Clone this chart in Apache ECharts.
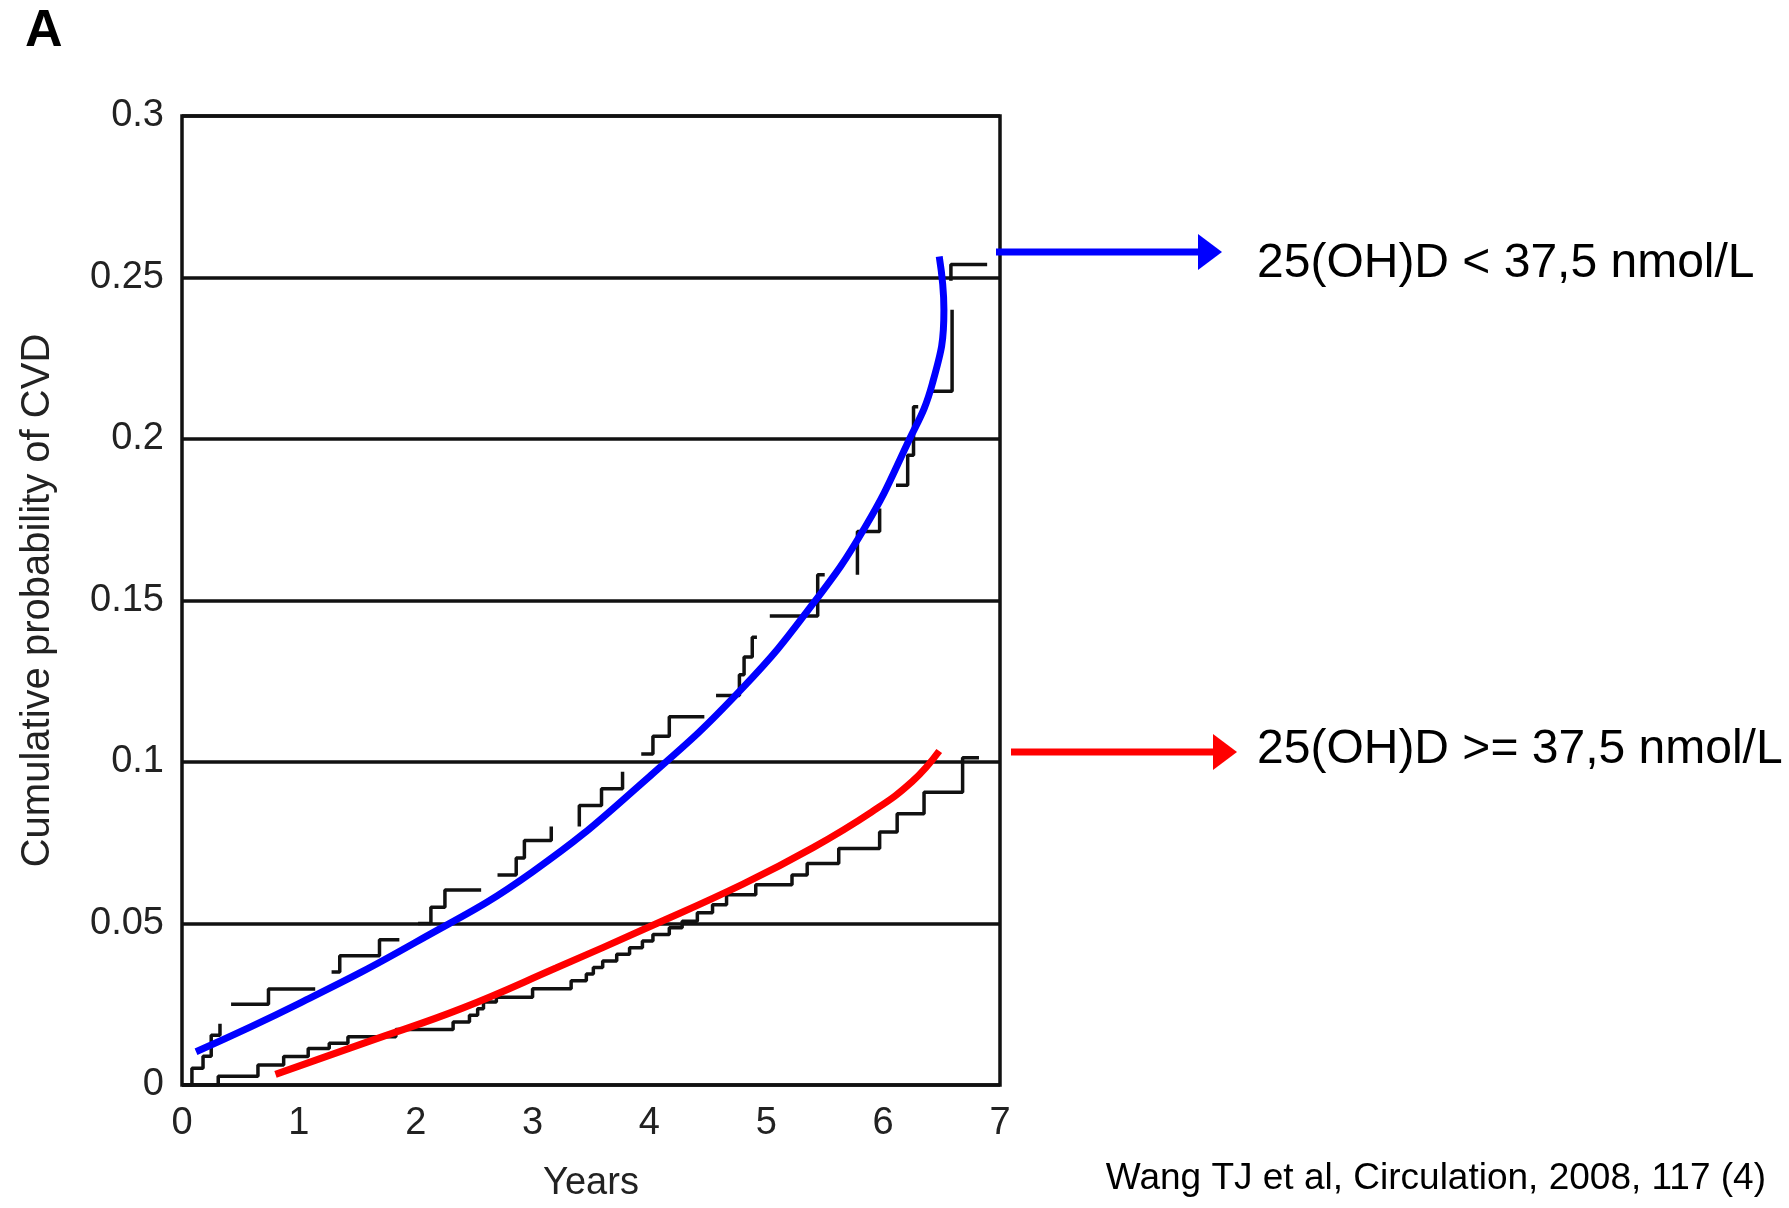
<!DOCTYPE html>
<html><head><meta charset="utf-8">
<script src="https://cdn.jsdelivr.net/npm/echarts@6/dist/echarts.min.js"></script>
<style>html,body{margin:0;padding:0;background:#fff}#c{width:1789px;height:1208px}</style>
</head><body><div id="c"></div>
<script>
// Kaplan-Meier step curve, 25(OH)D < 37.5 nmol/L (drawn as separate visible pieces)
const lowDSegments = [
  [[0,0],[0.085,0.0052],[0.18,0.0089],[0.25,0.0154],[0.325,0.019]],
  [[0.42,0.025],[0.74,0.0297],[1.14,0.0297]],
  [[1.28,0.035],[1.35,0.040],[1.69,0.045],[1.86,0.045]],
  [[2.02,0.050],[2.13,0.055],[2.25,0.0604],[2.56,0.0604]],
  [[2.70,0.065],[2.86,0.0703],[2.93,0.0757],[3.16,0.080]],
  [[3.40,0.080],[3.40,0.0865],[3.59,0.0917],[3.77,0.097]],
  [[3.93,0.1025],[4.03,0.108],[4.17,0.114],[4.47,0.114]],
  [[4.57,0.1206],[4.77,0.127],[4.81,0.1325],[4.88,0.1386],[4.92,0.1386]],
  [[5.03,0.1452],[5.44,0.158],[5.50,0.158]],
  [[5.78,0.158],[5.78,0.1714],[5.97,0.1785]],
  [[6.11,0.1857],[6.21,0.195],[6.26,0.210],[6.30,0.210]],
  [[6.42,0.2148],[6.59,0.240]],
  [[6.58,0.249],[6.58,0.254],[6.89,0.254]]
];
// Kaplan-Meier step curve, 25(OH)D >= 37.5 nmol/L
const highDSteps = [
  [0,0],[0.31,0.0027],[0.65,0.0062],[0.87,0.0088],[1.08,0.0113],[1.26,0.0129],
  [1.42,0.0149],[1.83,0.0172],[2.32,0.0195],[2.46,0.0216],[2.53,0.0236],[2.58,0.0257],
  [2.69,0.0272],[3.00,0.0298],[3.33,0.0323],[3.46,0.0344],[3.52,0.0364],[3.60,0.0384],
  [3.72,0.0405],[3.83,0.0425],[3.94,0.0446],[4.03,0.0466],[4.17,0.0487],[4.28,0.0507],
  [4.41,0.0533],[4.54,0.0558],[4.66,0.0589],[4.91,0.062],[5.22,0.065],[5.35,0.0686],
  [5.62,0.0732],[5.97,0.0783],[6.12,0.084],[6.35,0.0906],[6.68,0.1013],[6.82,0.1013]
];
// Hand-drawn trend curves (blue: low vitamin D, red: high vitamin D)
const lowDTrend = [
  [0.12,0.0103],[1.0,0.0252],[2.0,0.0442],[3.0,0.066],[4.0,0.0955],[4.8,0.123],
  [5.4,0.149],[5.85,0.173],[6.2,0.198],[6.42,0.217],[6.52,0.240],[6.48,0.2565]
];
const highDTrend = [
  [0.80,0.0033],[1.6,0.0135],[2.4,0.0238],[3.2,0.0362],[4.0,0.0490],[4.8,0.0622],
  [5.4,0.0735],[5.9,0.0845],[6.25,0.0940],[6.48,0.1034]
];
const yTickLabels = ['0','0.05','0.1','0.15','0.2','0.25','0.3'];
const xTickLabels = ['0','1','2','3','4','5','6','7'];
const labelLow = '25(OH)D < 37,5 nmol/L';
const labelHigh = '25(OH)D >= 37,5 nmol/L';
const panelLetter = 'A';
const citation = 'Wang TJ et al, Circulation, 2008, 117 (4)';
const xName = 'Years';
const yName = 'Cumulative probability of CVD';

const FONT = "'Liberation Sans', Arial, Helvetica, sans-serif";
const chart = echarts.init(document.getElementById('c'), null, {renderer:'canvas'});

const series = [];
lowDSegments.forEach(seg => series.push({
  type:'line', data:seg, step:'end', showSymbol:false, symbol:'none', silent:true,
  lineStyle:{color:'#111', width:3.5}, z:2
}));
series.push({type:'line', data:highDSteps, step:'end', symbol:'none', silent:true,
  lineStyle:{color:'#111', width:3.5}, z:2});
series.push({type:'line', data:lowDTrend, smooth:0.45, symbol:'none', silent:true,
  lineStyle:{color:'#0000ff', width:7, cap:'butt'}, z:5});
series.push({type:'line', data:highDTrend, smooth:0.45, symbol:'none', silent:true,
  lineStyle:{color:'#ff0000', width:7, cap:'butt'}, z:5});

function arrow(x1, x2, y, color){
  return {type:'group', children:[
    {type:'line', shape:{x1:x1, y1:y, x2:x2-22, y2:y}, style:{stroke:color, lineWidth:7}},
    {type:'polygon', shape:{points:[[x2-24,y-18],[x2,y],[x2-24,y+18]]}, style:{fill:color}}
  ]};
}

chart.setOption({
  animation:false,
  backgroundColor:'#fff',
  grid:{left:182, right:789, top:116, bottom:116, show:true, borderColor:'#111', borderWidth:3.5, backgroundColor:'transparent'},
  xAxis:{type:'value', min:0, max:7, interval:1,
    axisLine:{show:false}, axisTick:{show:false}, splitLine:{show:false},
    axisLabel:{fontFamily:FONT, fontSize:38, color:'#222', margin:20,
      formatter:(v)=>xTickLabels[Math.round(v)]},
    name:xName, nameLocation:'middle', nameGap:80,
    nameTextStyle:{fontFamily:FONT, fontSize:38, color:'#222'}},
  yAxis:{type:'value', min:0, max:0.3, interval:0.05,
    axisLine:{show:false}, axisTick:{show:false},
    splitLine:{show:true, lineStyle:{color:'#111', width:3.5}},
    axisLabel:{fontFamily:FONT, fontSize:38, color:'#222', margin:18,
      formatter:(v)=>yTickLabels[Math.round(v/0.05)]},
    name:yName, nameLocation:'middle', nameGap:124, nameRotate:90,
    nameTextStyle:{fontFamily:FONT, fontSize:40, color:'#222'}},
  series:series,
  graphic:[
    {type:'text', left:25, top:6, style:{text:panelLetter, font:"bold 52px "+FONT, fill:'#000'}},
    arrow(996, 1222, 252, '#0000ff'),
    arrow(1011, 1237, 752, '#ff0000'),
    {type:'text', x:1257, y:264, style:{text:labelLow, font:"48px "+FONT, fill:'#000', textVerticalAlign:'middle'}},
    {type:'text', x:1257, y:750, style:{text:labelHigh, font:"48px "+FONT, fill:'#000', textVerticalAlign:'middle'}},
    {type:'text', x:1766, y:1179, style:{text:citation, font:"37px "+FONT, fill:'#000', textAlign:'right', textVerticalAlign:'middle'}}
  ]
});
</script></body></html>
